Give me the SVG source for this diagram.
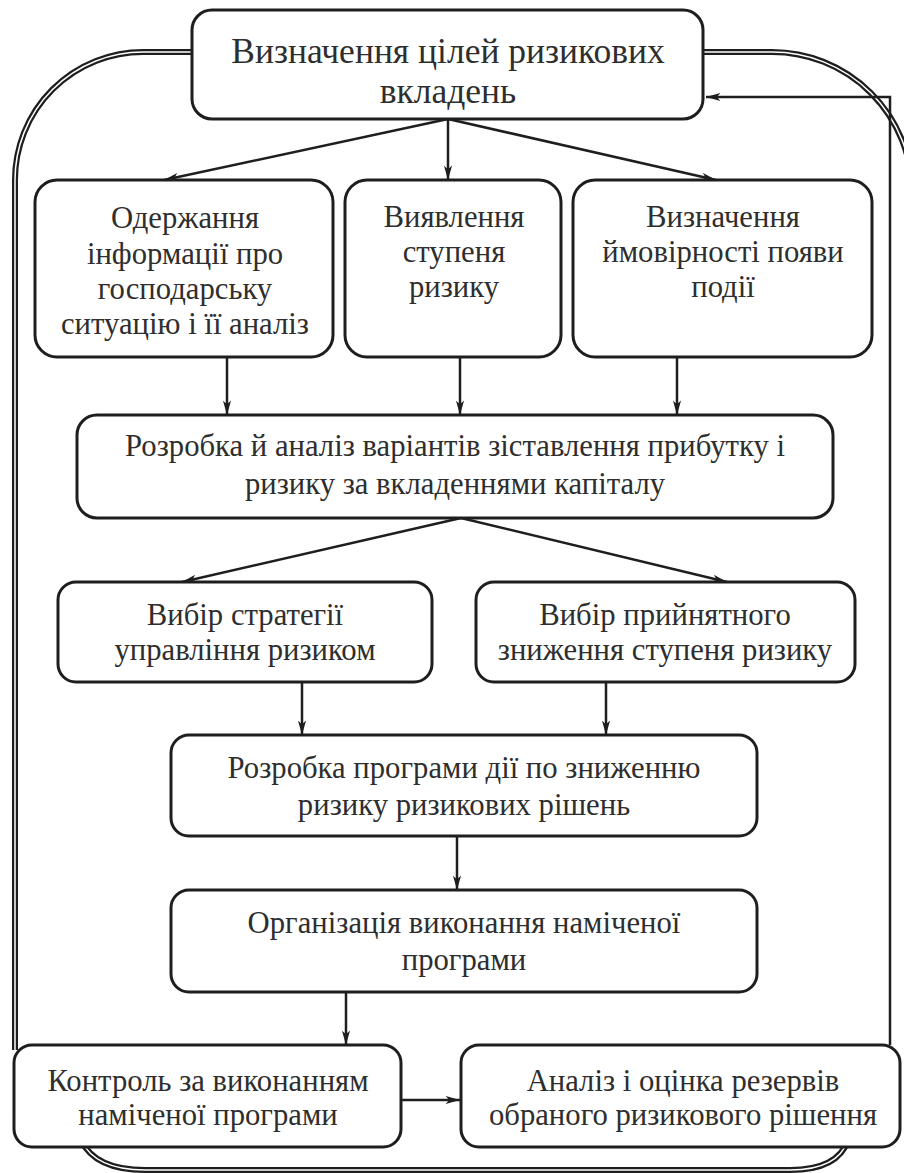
<svg xmlns="http://www.w3.org/2000/svg" width="904" height="1173" viewBox="0 0 904 1173">
<style>
  .box { fill: #fff; stroke: #1e1e1e; stroke-width: 3; }
  .t { font-size: 30.7px; fill: #2e2e2e; text-anchor: middle; }
  .big { font-size: 35.5px; }
  .ln { fill: none; stroke: #1e1e1e; stroke-width: 2.5; }
  .frameA { fill: none; stroke: #1e1e1e; stroke-width: 6; }
  .frameB { fill: none; stroke: #fff; stroke-width: 1.5; }
</style>
<defs>
  <marker id="ah" viewBox="0 0 16 10" refX="16" refY="5" markerWidth="15" markerHeight="9" markerUnits="userSpaceOnUse" orient="auto">
    <path d="M0,0.5 L16,5 L0,9.5 L4,5 Z" fill="#1e1e1e"/>
  </marker>
</defs>
<rect width="904" height="1173" fill="#fff"/>

<g id="frame">
  <path class="frameA" d="M 200 52 H 143 A 128 128 0 0 0 15 180 V 1050"/>
  <path class="frameB" d="M 200 52 H 143 A 128 128 0 0 0 15 180 V 1050"/>
  <path class="frameA" d="M 690 52 H 772 A 140 140 0 0 1 912 192 V 1173"/>
  <path class="frameB" d="M 690 52 H 772 A 140 140 0 0 1 912 192 V 1173"/>
  <path class="frameA" d="M 81 1140 Q 95 1170 145 1170 H 790 Q 838 1170 848 1140"/>
  <path class="frameB" d="M 81 1140 Q 95 1170 145 1170 H 790 Q 838 1170 848 1140"/>
</g>

<g id="connectors">
  <path class="ln" d="M 448 119 L 164 180" marker-end="url(#ah)"/>
  <path class="ln" d="M 448 119 L 448 180" marker-end="url(#ah)"/>
  <path class="ln" d="M 448 119 L 716 180" marker-end="url(#ah)"/>
  <path class="ln" d="M 227 357 L 227 415" marker-end="url(#ah)"/>
  <path class="ln" d="M 460 357 L 460 415" marker-end="url(#ah)"/>
  <path class="ln" d="M 677 357 L 677 415" marker-end="url(#ah)"/>
  <path class="ln" d="M 461 518 L 182 582" marker-end="url(#ah)"/>
  <path class="ln" d="M 461 518 L 727 582" marker-end="url(#ah)"/>
  <path class="ln" d="M 302 682 L 302 735" marker-end="url(#ah)"/>
  <path class="ln" d="M 606 682 L 606 735" marker-end="url(#ah)"/>
  <path class="ln" d="M 457 836 L 457 890" marker-end="url(#ah)"/>
  <path class="ln" d="M 346 992 L 346 1045" marker-end="url(#ah)"/>
  <path class="ln" d="M 401 1100 L 460 1100" marker-end="url(#ah)"/>
  <path class="ln" d="M 890 1045 V 97 H 706" marker-end="url(#ah)"/>
</g>

<g font-family="Liberation Serif, serif">
<g id="n_top">
  <rect class="box" x="192" y="10" width="511" height="109" rx="20"/>
  <text class="t big" x="448" y="63">Визначення цілей ризикових</text>
  <text class="t big" x="448" y="103">вкладень</text>
</g>
<g id="n_info">
  <rect class="box" x="35" y="180" width="298" height="177" rx="22"/>
  <text class="t" x="185" y="228">Одержання</text>
  <text class="t" x="185" y="264">інформації про</text>
  <text class="t" x="185" y="299">господарську</text>
  <text class="t" x="185" y="334">ситуацію і її аналіз</text>
</g>
<g id="n_degree">
  <rect class="box" x="345" y="180" width="216" height="177" rx="22"/>
  <text class="t" x="454" y="227">Виявлення</text>
  <text class="t" x="454" y="262">ступеня</text>
  <text class="t" x="454" y="297">ризику</text>
</g>
<g id="n_prob">
  <rect class="box" x="573" y="180" width="299" height="177" rx="22"/>
  <text class="t" x="723" y="227">Визначення</text>
  <text class="t" x="723" y="262">ймовірності появи</text>
  <text class="t" x="723" y="297">події</text>
</g>
<g id="n_variants">
  <rect class="box" x="77" y="415" width="756" height="103" rx="20"/>
  <text class="t" x="455" y="456">Розробка й аналіз варіантів зіставлення прибутку і</text>
  <text class="t" x="455" y="494">ризику за вкладеннями капіталу</text>
</g>
<g id="n_strategy">
  <rect class="box" x="58" y="582" width="374" height="100" rx="18"/>
  <text class="t" x="245" y="625">Вибір стратегії</text>
  <text class="t" x="245" y="660">управління ризиком</text>
</g>
<g id="n_reduce">
  <rect class="box" x="476" y="582" width="379" height="100" rx="18"/>
  <text class="t" x="665" y="625">Вибір прийнятного</text>
  <text class="t" x="665" y="660">зниження ступеня ризику</text>
</g>
<g id="n_program">
  <rect class="box" x="171" y="735" width="586" height="101" rx="18"/>
  <text class="t" x="464" y="778">Розробка програми дії по зниженню</text>
  <text class="t" x="464" y="815">ризику ризикових рішень</text>
</g>
<g id="n_org">
  <rect class="box" x="171" y="890" width="586" height="102" rx="18"/>
  <text class="t" x="464" y="933">Організація виконання наміченої</text>
  <text class="t" x="464" y="970">програми</text>
</g>
<g id="n_control">
  <rect class="box" x="14" y="1045" width="387" height="102" rx="18"/>
  <text class="t" x="208" y="1091">Контроль за виконанням</text>
  <text class="t" x="208" y="1125">наміченої програми</text>
</g>
<g id="n_analysis">
  <rect class="box" x="461" y="1045" width="439" height="102" rx="18"/>
  <text class="t" x="683" y="1091">Аналіз і оцінка резервів</text>
  <text class="t" x="683" y="1125">обраного ризикового рішення</text>
</g>
</g>
</svg>
